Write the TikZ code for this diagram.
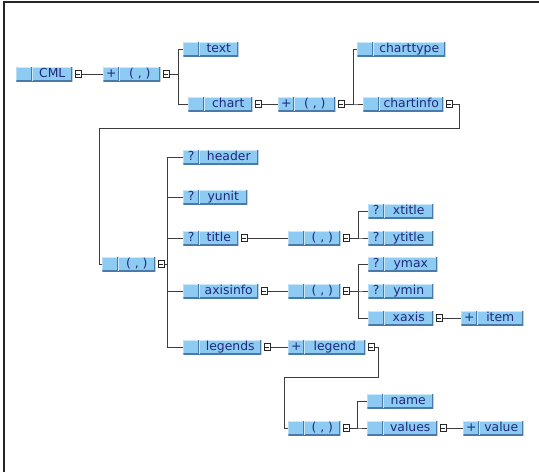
\documentclass[tikz,border=0pt]{standalone}
\usepackage{fontspec}
\setmainfont{DejaVu Sans}
\usetikzlibrary{positioning}
\definecolor{cellblue}{RGB}{142,203,243}
\definecolor{cellshade}{RGB}{74,122,170}
\definecolor{celllight}{RGB}{205,232,250}
\definecolor{labelblue}{RGB}{32,42,122}
\definecolor{wiregray}{RGB}{60,60,60}
\newlength{\px}\setlength{\px}{0.75pt}
\newcommand{\elemtext}[3]{\makebox[16\px]{#1}\makebox[#2\px]{#3}}

\begin{document}
\begin{tikzpicture}[x=0.75pt,y=-0.75pt,
    elem/.style={anchor=west,fill=cellblue,inner sep=0pt,minimum height=10.5pt,
      text height=6.9pt,text depth=1.9pt,font=\fontsize{9.3}{11}\selectfont,text=labelblue,
      path picture={
        \draw[celllight,line width=1.2pt] (path picture bounding box.south west) |- (path picture bounding box.north east);
        \draw[cellshade,line width=1.2pt] (path picture bounding box.south west) -| (path picture bounding box.north east);
        \draw[cellshade,line width=0.75pt] ([xshift=11.6pt]path picture bounding box.south west) -- ([xshift=11.6pt]path picture bounding box.north west);
        \draw[celllight,line width=0.75pt] ([xshift=12.35pt]path picture bounding box.south west) -- ([xshift=12.35pt]path picture bounding box.north west);
      }},
    tog/.style={draw=black!85,fill=white,line width=0.55pt,minimum size=5.2pt,inner sep=0pt,right=1.5pt of #1,
      path picture={\draw[line width=0.55pt] ([xshift=1.1pt]path picture bounding box.west) -- ([xshift=-1.1pt]path picture bounding box.east);}},
    wire/.style={draw=wiregray,line width=0.75pt}]
  \useasboundingbox (0,0) rectangle (539,472);
  \draw[black!85,line width=1.1pt] (4,472) -- (4,2) -- (539,2);

  % top level
  \node[elem] (cml) at (16,74) {\elemtext{}{40}{CML}};
  \node[tog=cml] (cmlt) {};
  \node[elem] (seqa) at (103,74) {\elemtext{+}{41}{( , )}};
  \node[tog=seqa] (seqat) {};
  \node[elem] (text) at (183,49) {\elemtext{}{39}{text}};
  \node[elem] (chart) at (188,104) {\elemtext{}{48}{chart}};
  \node[tog=chart] (chartt) {};
  \node[elem] (seqb) at (278,104) {\elemtext{+}{41}{( , )}};
  \node[tog=seqb] (seqbt) {};
  \node[elem] (charttype) at (357,49) {\elemtext{}{72}{charttype}};
  \node[elem] (chartinfo) at (363,104) {\elemtext{}{64}{chartinfo}};
  \node[tog=chartinfo] (chartinfot) {};
  \coordinate (turn) at (99,128);

  % chartinfo content
  \node[elem] (seqc) at (102,264) {\elemtext{}{37}{( , )}};
  \node[tog=seqc] (seqct) {};
  \node[elem] (header) at (183,157) {\elemtext{?}{59}{header}};
  \node[elem] (yunit) at (183,197) {\elemtext{?}{48}{yunit}};
  \node[elem] (title) at (183,238) {\elemtext{?}{39}{title}};
  \node[tog=title] (titlet) {};
  \node[elem] (axisinfo) at (183,291) {\elemtext{}{59}{axisinfo}};
  \node[tog=axisinfo] (axisinfot) {};
  \node[elem] (legends) at (183,347) {\elemtext{}{62}{legends}};
  \node[tog=legends] (legendst) {};

  \node[elem] (seqd) at (288,238) {\elemtext{}{36}{( , )}};
  \node[tog=seqd] (seqdt) {};
  \node[elem] (xtitle) at (368,211) {\elemtext{?}{49}{xtitle}};
  \node[elem] (ytitle) at (368,238) {\elemtext{?}{49}{ytitle}};

  \node[elem] (seqe) at (288,291) {\elemtext{}{36}{( , )}};
  \node[tog=seqe] (seqet) {};
  \node[elem] (ymax) at (368,264) {\elemtext{?}{53}{ymax}};
  \node[elem] (ymin) at (368,291) {\elemtext{?}{49}{ymin}};
  \node[elem] (xaxis) at (368,318) {\elemtext{}{49}{xaxis}};
  \node[tog=xaxis] (xaxist) {};
  \node[elem] (item) at (461,318) {\elemtext{+}{46}{item}};

  \node[elem] (legend) at (288,347) {\elemtext{+}{61}{legend}};
  \node[tog=legend] (legendt) {};
  \coordinate (turnb) at (284,377);
  \node[elem] (seqf) at (288,428) {\elemtext{}{36}{( , )}};
  \node[tog=seqf] (seqft) {};
  \node[elem] (name) at (367,401) {\elemtext{}{50}{name}};
  \node[elem] (values) at (367,428) {\elemtext{}{54}{values}};
  \node[tog=values] (valuest) {};
  \node[elem] (value) at (463,428) {\elemtext{+}{44}{value}};

  % connectors
  \draw[wire] (cmlt.east) -- (seqa.west);
  \draw[wire] (seqat.east) -- ++(8,0) |- (text.west);
  \draw[wire] (seqat.east) -- ++(8,0) |- (chart.west);
  \draw[wire] (chartt.east) -- (seqb.west);
  \draw[wire] (seqbt.east) -- ++(8,0) |- (charttype.west);
  \draw[wire] (seqbt.east) -- ++(8,0) |- (chartinfo.west);
  \draw[wire] (chartinfot.east) -- ++(6,0) |- (turn) |- (seqc.west);

  \draw[wire] (seqct.east) -- ++(2,0) |- (header.west);
  \draw[wire] (seqct.east) -- ++(2,0) |- (yunit.west);
  \draw[wire] (seqct.east) -- ++(2,0) |- (title.west);
  \draw[wire] (seqct.east) -- ++(2,0) |- (axisinfo.west);
  \draw[wire] (seqct.east) -- ++(2,0) |- (legends.west);

  \draw[wire] (titlet.east) -- (seqd.west);
  \draw[wire] (seqdt.east) -- ++(8,0) |- (xtitle.west);
  \draw[wire] (seqdt.east) -- ++(8,0) |- (ytitle.west);
  \draw[wire] (axisinfot.east) -- (seqe.west);
  \draw[wire] (seqet.east) -- ++(8,0) |- (ymax.west);
  \draw[wire] (seqet.east) -- ++(8,0) |- (ymin.west);
  \draw[wire] (seqet.east) -- ++(8,0) |- (xaxis.west);
  \draw[wire] (xaxist.east) -- (item.west);

  \draw[wire] (legendst.east) -- (legend.west);
  \draw[wire] (legendt.east) -- ++(3,0) |- (turnb) |- (seqf.west);
  \draw[wire] (seqft.east) -- ++(7,0) |- (name.west);
  \draw[wire] (seqft.east) -- ++(7,0) |- (values.west);
  \draw[wire] (valuest.east) -- (value.west);
\end{tikzpicture}
\end{document}
